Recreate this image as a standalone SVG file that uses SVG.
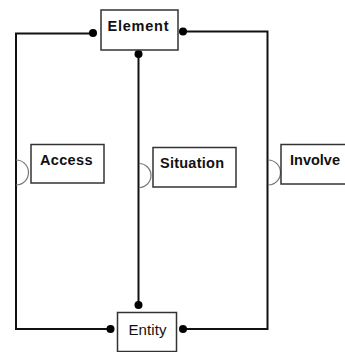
<svg xmlns="http://www.w3.org/2000/svg" width="345" height="352" viewBox="0 0 345 352">
  <style>
    .box { fill: #fff; stroke: #333; stroke-width: 1.5; }
    .lbl { font-family: "Liberation Sans", Arial, sans-serif; font-size: 14.5px; font-weight: bold; fill: #111; }
    .lbl-reg { font-family: "Liberation Sans", Arial, sans-serif; font-size: 15px; fill: #111; }
    .wire { fill: none; stroke: #111; stroke-width: 2; }
    .dot { fill: #000; }
    .hook { fill: none; stroke: #777; stroke-width: 1.2; }
  </style>

  <g id="connectors">
    <!-- Element to Entity via left side (Access) -->
    <polyline class="wire" points="93,33.5 16,33.5 16,329 110,329"/>
    <!-- Element to Entity via right side (Involve) -->
    <polyline class="wire" points="183,31.5 267.5,31.5 267.5,329 183,329"/>
    <!-- Element to Entity direct (Situation) -->
    <line class="wire" x1="138.5" y1="54" x2="138.5" y2="305"/>
    <!-- endpoint dots -->
    <circle class="dot" cx="93" cy="33" r="4"/>
    <circle class="dot" cx="183" cy="31.5" r="4"/>
    <circle class="dot" cx="138.5" cy="54" r="4"/>
    <circle class="dot" cx="138.5" cy="305" r="4"/>
    <circle class="dot" cx="110.5" cy="329" r="4"/>
    <circle class="dot" cx="183" cy="329" r="4"/>
    <!-- attachment hooks from relation boxes -->
    <path class="hook" d="M16,160 A12.5,12.5 0 0 1 16,185"/>
    <path class="hook" d="M139,163.5 A12,12 0 0 1 139,187.5"/>
    <path class="hook" d="M268,160 A12.5,12.5 0 0 1 268,185"/>
  </g>

  <g id="element">
    <rect class="box" x="101" y="10" width="77" height="40"/>
    <text class="lbl" x="107.5" y="31" textLength="61" lengthAdjust="spacing">Element</text>
  </g>

  <g id="access">
    <rect class="box" x="31" y="144.5" width="73" height="38.5"/>
    <text class="lbl" x="40" y="164.5" textLength="52.5" lengthAdjust="spacing">Access</text>
  </g>

  <g id="situation">
    <rect class="box" x="153" y="147.5" width="83" height="39.5"/>
    <text class="lbl" x="160" y="167.5" textLength="64" lengthAdjust="spacing">Situation</text>
  </g>

  <g id="involve">
    <rect class="box" x="281" y="144.5" width="72" height="39.5"/>
    <text class="lbl" x="290" y="164.5" textLength="50" lengthAdjust="spacing">Involve</text>
  </g>

  <g id="entity">
    <rect class="box" x="117.5" y="312.5" width="59" height="39"/>
    <text class="lbl-reg" x="128.5" y="335" textLength="38" lengthAdjust="spacing">Entity</text>
  </g>
</svg>
